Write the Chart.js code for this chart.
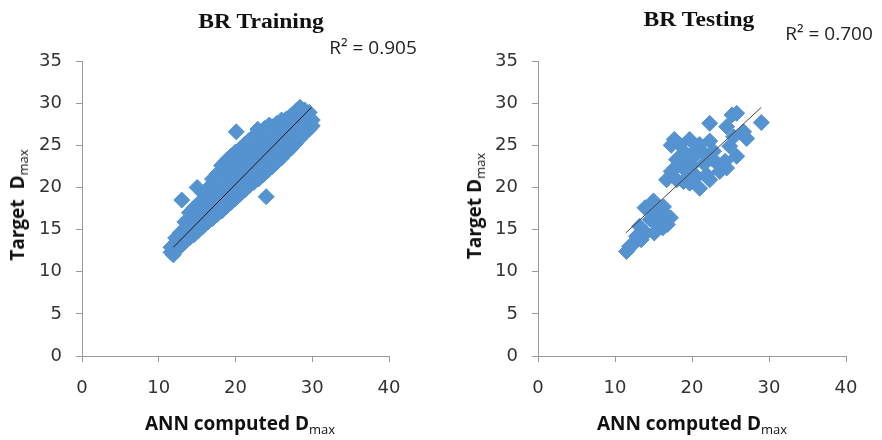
<!DOCTYPE html>
<html>
<head>
  <title>BR Training and Testing</title>
  <script src="https://cdn.jsdelivr.net/npm/chart.js"></script>
  <style>
    body { margin: 0; background: #fff; }
    #wrap { position: relative; width: 882px; height: 440px; overflow: hidden; }
    canvas { position: absolute; top: 0; }
    .t { position: absolute; white-space: nowrap; line-height: 1; color: #111; }
    .title { font-family: "Liberation Serif", serif; font-weight: bold; font-size: 20px; transform: translate(-50%, -50%) scaleX(1.18); }
    .r2 { font-family: "Open Sans", sans-serif; font-size: 19px; color: #222; transform: translate(-50%, -50%); }
    .ax { font-family: "Open Sans", sans-serif; font-weight: bold; font-size: 19px; }
    .ax sub { font-size: 13px; vertical-align: -4px; font-weight: normal; }
    .xt { transform: translate(-50%, -50%); }
    .yt { transform: translate(-50%, -50%) rotate(-90deg); }
  </style>
</head>
<body>
<div id="wrap">
  <canvas id="trainChart" width="441" height="440" style="left:0"></canvas>
  <canvas id="testChart" width="441" height="440" style="left:441px"></canvas>

  <div class="t title" style="left:261px; top:21px">BR Training</div>
  <div class="t title" style="left:699px; top:19px">BR Testing</div>
  <div class="t r2" style="left:373px; top:47px">R² = 0.905</div>
  <div class="t r2" style="left:829px; top:33px">R² = 0.700</div>
  <div class="t ax xt" style="left:240px; top:425px">ANN computed D<sub>max</sub></div>
  <div class="t ax xt" style="left:692px; top:425px">ANN computed D<sub>max</sub></div>
  <div class="t ax yt" style="left:19px; top:205px">Target&nbsp; D<sub>max</sub></div>
  <div class="t ax yt" style="left:476px; top:206px">Target D<sub>max</sub></div>
</div>
<script>
  // training set: ANN computed Dmax (x) vs target Dmax (y)
  const trainPoints = [
    [11.6,12.3],[11.6,12.9],[11.9,12.0],
    [12.2,12.5],[12.2,13.3],[12.2,14.0],
    [12.8,13.0],[12.8,13.8],[12.8,14.6],[13.0,18.5],
    [13.4,13.5],[13.4,14.3],[13.4,15.1],[13.4,15.9],
    [14.0,14.0],[14.0,14.8],[14.0,15.6],[14.0,16.4],[14.0,17.0],
    [14.6,14.4],[14.6,15.2],[14.6,16.0],[14.6,16.8],[14.6,17.6],
    [15.2,14.9],[15.2,15.7],[15.2,16.5],[15.2,17.3],[15.2,18.1],[15.0,20.0],
    [15.8,15.4],[15.8,16.2],[15.8,17.0],[15.8,17.8],[15.8,18.6],[15.8,19.3],
    [16.4,15.9],[16.4,16.7],[16.4,17.5],[16.4,18.3],[16.4,19.1],[16.4,19.9],
    [17.0,16.3],[17.0,17.1],[17.0,17.9],[17.0,18.7],[17.0,19.5],[17.0,20.3],[17.0,21.0],
    [17.6,16.8],[17.6,17.6],[17.6,18.4],[17.6,19.2],[17.6,20.0],[17.6,20.8],[17.6,21.6],
    [18.2,17.2],[18.2,18.0],[18.2,18.8],[18.2,19.6],[18.2,20.4],[18.2,21.2],[18.2,22.0],[18.2,22.6],
    [18.8,17.7],[18.8,18.5],[18.8,19.3],[18.8,20.1],[18.8,20.9],[18.8,21.7],[18.8,22.5],[18.8,23.2],
    [19.4,18.2],[19.4,19.0],[19.4,19.8],[19.4,20.6],[19.4,21.4],[19.4,22.2],[19.4,23.0],[19.4,23.7],
    [20.0,18.7],[20.0,19.5],[20.0,20.3],[20.0,21.1],[20.0,21.9],[20.0,22.7],[20.0,23.5],[20.0,24.2],[20.1,26.6],
    [20.6,19.2],[20.6,20.0],[20.6,20.8],[20.6,21.6],[20.6,22.4],[20.6,23.2],[20.6,24.0],[20.6,24.6],
    [21.2,19.7],[21.2,20.5],[21.2,21.3],[21.2,22.1],[21.2,22.9],[21.2,23.7],[21.2,24.5],[21.2,25.1],
    [21.8,20.2],[21.8,21.0],[21.8,21.8],[21.8,22.6],[21.8,23.4],[21.8,24.2],[21.8,25.0],[21.8,25.6],
    [22.4,20.6],[22.4,21.4],[22.4,22.2],[22.4,23.0],[22.4,23.8],[22.4,24.6],[22.4,25.4],[22.4,26.1],
    [23.0,21.0],[23.0,21.8],[23.0,22.6],[23.0,23.4],[23.0,24.2],[23.0,25.0],[23.0,25.8],[22.9,26.9],
    [23.6,21.5],[23.6,22.3],[23.6,23.1],[23.6,23.9],[23.6,24.7],[23.6,25.5],[23.6,26.3],[23.8,27.0],
    [24.0,18.9],
    [24.2,22.0],[24.2,22.8],[24.2,23.6],[24.2,24.4],[24.2,25.2],[24.2,26.0],[24.2,26.8],[24.4,27.4],
    [24.8,22.5],[24.8,23.3],[24.8,24.1],[24.8,24.9],[24.8,25.7],[24.8,26.5],[24.8,27.2],
    [25.4,23.0],[25.4,23.8],[25.4,24.6],[25.4,25.4],[25.4,26.2],[25.4,27.0],[25.4,27.6],
    [26.0,23.5],[26.0,24.3],[26.0,25.1],[26.0,25.9],[26.0,26.7],[26.0,27.5],[26.0,28.0],
    [26.6,24.1],[26.6,24.9],[26.6,25.7],[26.6,26.5],[26.6,27.3],[26.6,28.1],
    [27.2,24.6],[27.2,25.4],[27.2,26.2],[27.2,27.0],[27.2,27.8],[27.2,28.5],
    [27.8,25.2],[27.8,26.0],[27.8,26.8],[27.8,27.6],[27.8,28.4],[27.8,29.0],
    [28.4,25.8],[28.4,26.6],[28.4,27.4],[28.4,28.2],[28.4,29.0],[28.4,29.5],
    [29.0,26.4],[29.0,27.2],[29.0,28.0],[29.0,28.8],[29.0,29.2],
    [29.6,26.9],[29.6,27.6],[29.6,28.3],[29.6,28.9],
    [30.0,27.3],[30.0,28.0]
  ];
  const trainFit = [[11.9,12.9],[29.9,29.5]];

  // testing set
  const testPoints = [
    [11.5,12.4],[11.9,13.0],[12.4,13.3],[12.8,14.2],[13.4,13.8],[13.2,15.4],[14.0,14.6],
    [14.6,16.2],[13.9,17.6],[15.0,18.4],[15.4,15.8],[15.1,14.6],[15.7,16.9],[16.3,17.7],
    [16.7,16.7],[16.2,15.2],[16.8,15.6],[17.2,16.4],[16.3,16.4],[14.8,17.2],
    [16.7,20.9],[17.3,21.9],[18.0,20.9],[18.9,20.7],[19.3,21.9],[19.7,20.5],[20.6,21.3],
    [21.0,19.9],[21.9,21.5],[22.3,20.9],[18.0,23.3],[17.3,25.0],[17.7,25.7],[18.4,25.1],
    [19.7,25.7],[21.0,25.1],[22.3,25.5],[20.6,24.5],[21.5,24.1],[22.8,24.3],[23.2,22.9],
    [23.6,21.9],[24.3,23.1],[24.5,22.3],[25.8,23.7],[24.9,24.9],[25.4,26.0],[27.1,25.8],
    [26.7,26.6],[24.5,27.2],[25.2,28.6],[25.8,28.8],[22.3,27.6],[29.0,27.7],[19.0,23.0],[20.0,22.6],
    [19.0,24.2],[20.2,23.6],[21.6,22.8],[22.6,23.4],[17.8,22.3]
  ];
  const testFit = [[11.4,14.6],[29.0,29.5]];

  const xMin = 0, xMax = 40, xStep = 10;
  const yMin = 0, yMax = 35, yStep = 5;

  const BLUE = '#5592D0';
  const AXIS = '#9a9a9a';
  const tickFont = { family: 'DejaVu Sans', size: 18 };

  function toXY(list) {
    return list.map(p => ({ x: p[0], y: p[1] }));
  }

  function makeChart(id, pts, fit, fitColor, yAxisWidth, padRight) {
    const ctx = document.getElementById(id).getContext('2d');
    return new Chart(ctx, {
      type: 'scatter',
      data: {
        datasets: [
          { data: toXY(fit), showLine: true, borderColor: fitColor, borderWidth: 1, pointRadius: 0, order: 0 },
          { data: toXY(pts), pointStyle: 'rectRot', pointRadius: 8, backgroundColor: BLUE, borderColor: BLUE, borderWidth: 1, order: 1 }
        ]
      },
      options: {
        responsive: false,
        animation: false,
        layout: { padding: { left: 0, right: padRight, top: 61, bottom: 40 } },
        plugins: { legend: { display: false }, tooltip: { enabled: false } },
        scales: {
          x: {
            type: 'linear', min: xMin, max: xMax,
            ticks: { stepSize: xStep, padding: 16, color: '#333', font: tickFont },
            grid: { drawOnChartArea: false, tickLength: 6, color: AXIS },
            border: { color: AXIS },
            afterFit: s => { s.height = 44; }
          },
          y: {
            min: yMin, max: yMax,
            ticks: { stepSize: yStep, padding: 14, color: '#333', font: tickFont },
            grid: { drawOnChartArea: false, tickLength: 6, color: AXIS },
            border: { color: AXIS },
            afterFit: s => { s.width = yAxisWidth; }
          }
        }
      }
    });
  }

  makeChart('trainChart', trainPoints, trainFit, '#1e1e1e', 82, 52);
  makeChart('testChart', testPoints, testFit, '#444', 97, 36);
</script>
</body>
</html>
